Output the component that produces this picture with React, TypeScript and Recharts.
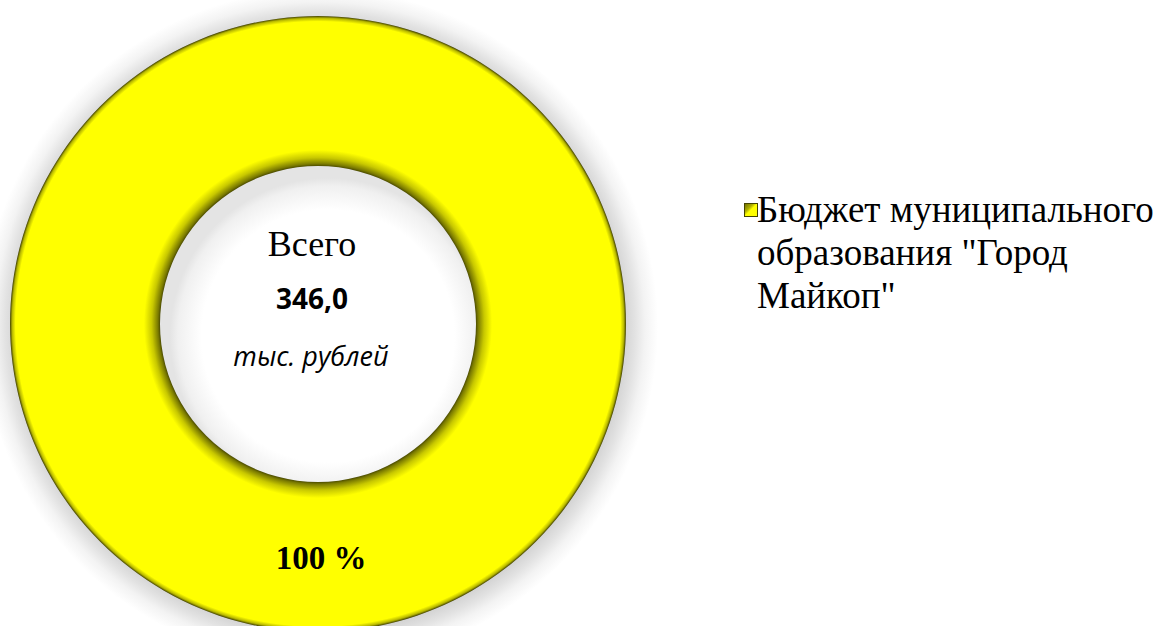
import React from 'react';
import { PieChart, Pie, Cell, Label, Legend } from 'recharts';

const categories = ['Бюджет муниципального образования "Город Майкоп"'];
const values = [346.0];
const shares = ['100 %'];
const totalTitle = 'Всего';
const totalValue = '346,0';
const totalUnit = 'тыс. рублей';
const legendLines = ['Бюджет муниципального', 'образования "Город', 'Майкоп"'];

const data = categories.map((name, i) => ({ name, value: values[i], share: shares[i] }));

const CX = 318;
const CY = 324;
const IR = 158;
const OR = 308;
const GLOW = 30;

const renderShare = (props: any) => {
  const { cx, cy, midAngle, innerRadius, outerRadius, index } = props;
  const RAD = Math.PI / 180;
  const r = (innerRadius + outerRadius) / 2;
  const x = cx + r * Math.cos(-midAngle * RAD);
  const y = cy + r * Math.sin(-midAngle * RAD);
  return (
    <text x={x + 3} y={y + 1} textAnchor="middle" dominantBaseline="central"
      style={{ fontFamily: '"Liberation Serif", serif', fontWeight: 700, fontSize: 33, fill: '#000' }}>
      {data[index].share}
    </text>
  );
};

const CenterLabel = (props: any) => {
  const vb = props.viewBox || {};
  const cx = vb.cx ?? CX;
  const cy = vb.cy ?? CY;
  return (
    <g>
      <text x={cx - 6} y={cy - 80} textAnchor="middle" dominantBaseline="central"
        style={{ fontFamily: '"Liberation Serif", serif', fontSize: 36, fill: '#000' }}>{totalTitle}</text>
      <text x={cx - 6} y={cy - 26} textAnchor="middle" dominantBaseline="central"
        style={{ fontFamily: '"Open Sans", sans-serif', fontWeight: 700, fontSize: 28, fill: '#000' }}>{totalValue}</text>
      <text x={cx - 7} y={cy + 31} textAnchor="middle" dominantBaseline="central"
        style={{ fontFamily: '"Open Sans", sans-serif', fontStyle: 'italic', fontSize: 27, fill: '#000' }}>{totalUnit}</text>
    </g>
  );
};

const LegendContent = () => (
  <div style={{ position: 'relative', width: 440, height: 150 }}>
    <svg width={14} height={14} style={{ position: 'absolute', left: 0, top: 15 }}>
      <defs>
        <linearGradient id="lgIcon" x1="0" y1="0" x2="1" y2="1">
          <stop offset="0" stopColor="#6a6a00" />
          <stop offset="0.35" stopColor="#b0b000" />
          <stop offset="0.5" stopColor="#ffff00" />
          <stop offset="1" stopColor="#ffff00" />
        </linearGradient>
      </defs>
      <rect x={0.5} y={0.5} width={13} height={13} fill="url(#lgIcon)" stroke="#444400" strokeWidth={1} />
    </svg>
    <div style={{ position: 'absolute', left: 13, top: 0, fontFamily: '"Liberation Serif", serif', fontSize: 37, lineHeight: '43px', color: '#000', whiteSpace: 'nowrap' }}>
      {legendLines.map((l, i) => <div key={i}>{l}</div>)}
    </div>
  </div>
);

export default function App() {
  return (
    <div style={{ position: 'absolute', left: 0, top: 0, width: 1160, height: 626, background: '#fff', overflow: 'hidden' }}>
      <PieChart width={1160} height={626} margin={{ top: 0, right: 0, bottom: 0, left: 0 }}>
        <defs>
          <radialGradient id="ringGrad" gradientUnits="userSpaceOnUse" cx={CX} cy={CY} r={OR}>
            <stop offset="0.51" stopColor="#3a3a00" />
            <stop offset="0.52" stopColor="#7a7a00" />
            <stop offset="0.54" stopColor="#c8c800" />
            <stop offset="0.565" stopColor="#ffff00" />
            <stop offset="0.982" stopColor="#ffff00" />
            <stop offset="0.993" stopColor="#b8b800" />
            <stop offset="1" stopColor="#404000" />
          </radialGradient>
          <radialGradient id="glowGrad" gradientUnits="userSpaceOnUse" cx={CX + 2} cy={CY + 3} r={OR + GLOW}>
            <stop offset={OR / (OR + GLOW) - 0.02} stopColor="#cfcfcf" />
            <stop offset={OR / (OR + GLOW) + 0.02} stopColor="#e2e2e2" />
            <stop offset={OR / (OR + GLOW) + 0.05} stopColor="#f3f3f3" />
            <stop offset="1" stopColor="#ffffff" />
          </radialGradient>
          <radialGradient id="holeGrad" gradientUnits="userSpaceOnUse" cx={CX + 10} cy={CY + 12} r={IR}>
            <stop offset="0.8" stopColor="#ffffff" />
            <stop offset="0.95" stopColor="#f0f0f0" />
            <stop offset="1" stopColor="#e4e4e4" />
          </radialGradient>
        </defs>
        <Pie
          data={data}
          dataKey="value"
          cx={CX + 2}
          cy={CY + 3}
          innerRadius={OR - 10}
          outerRadius={OR + GLOW}
          startAngle={90}
          endAngle={-270}
          stroke="none"
          fill="url(#glowGrad)"
          legendType="none"
          isAnimationActive={false}
        />
        <Pie
          data={data}
          dataKey="value"
          cx={CX}
          cy={CY}
          innerRadius={0}
          outerRadius={IR + 1}
          startAngle={90}
          endAngle={-270}
          stroke="none"
          fill="url(#holeGrad)"
          legendType="none"
          isAnimationActive={false}
        />
        <Pie
          data={data}
          dataKey="value"
          nameKey="name"
          cx={CX}
          cy={CY}
          innerRadius={IR}
          outerRadius={OR}
          startAngle={90}
          endAngle={-270}
          stroke="none"
          label={renderShare}
          labelLine={false}
          isAnimationActive={false}
        >
          {data.map((d, i) => (
            <Cell key={i} fill="url(#ringGrad)" />
          ))}
          <Label position="center" content={<CenterLabel />} />
        </Pie>
        <Legend
          content={<LegendContent />}
          layout="vertical"
          wrapperStyle={{ position: 'absolute', left: 744, top: 188, width: 440 }}
        />
      </PieChart>
    </div>
  );
}
